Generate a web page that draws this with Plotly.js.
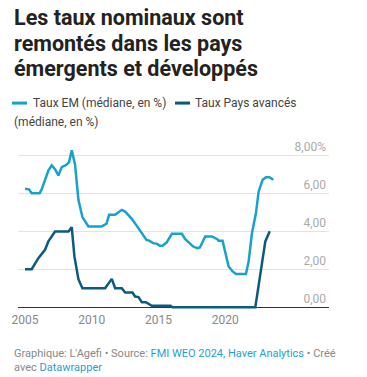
<!DOCTYPE html>
<html>
<head>
<meta charset="utf-8">
<script src="https://cdn.plot.ly/plotly-3.0.1.min.js"></script>
<style>
html,body{margin:0;padding:0;background:#fff;}
#chart{width:367px;height:377px;}
</style>
</head>
<body>
<div id="chart"></div>
<script>
// Taux EM (médiane, en %)
const emYears = [2005.0,2005.3,2005.5,2006.1,2006.25,2006.5,2006.75,2007.0,2007.25,2007.5,2007.75,2008.1,2008.3,2008.5,2008.75,2009.0,2009.3,2009.75,2010.75,2011.1,2011.3,2011.75,2012.25,2012.5,2013.0,2013.4,2013.75,2014.1,2014.3,2014.6,2014.9,2015.1,2015.3,2015.6,2016.0,2016.75,2017.0,2017.3,2017.6,2017.9,2018.1,2018.5,2019.0,2019.4,2019.5,2019.8,2020.25,2020.55,2020.8,2021.55,2021.75,2022.0,2022.3,2022.5,2022.8,2023.05,2023.3,2023.6];
const emValues = [6.23,6.2,6.0,6.0,6.2,6.74,7.19,7.46,7.26,6.93,7.37,7.49,7.63,8.25,7.49,5.65,4.74,4.25,4.25,4.39,4.86,4.86,5.12,5.03,4.65,4.25,3.9,3.54,3.5,3.37,3.33,3.23,3.23,3.4,3.86,3.86,3.58,3.4,3.19,3.1,3.14,3.72,3.72,3.58,3.49,3.49,2.14,1.88,1.75,1.75,2.4,3.9,4.95,6.09,6.7,6.84,6.84,6.7];
// Taux Pays avancés (médiane, en %)
const advYears = [2005.0,2005.5,2006.0,2006.5,2006.75,2007.25,2008.25,2008.5,2008.7,2009.0,2009.3,2011.0,2011.5,2011.75,2012.25,2012.5,2013.05,2013.25,2013.5,2013.75,2014.05,2014.5,2015.9,2016.05,2022.25,2022.75,2023.0,2023.33];
const advValues = [2.0,2.0,2.58,3.02,3.46,3.98,3.98,4.21,2.67,1.47,1.0,1.0,1.49,1.0,1.0,0.77,0.77,0.56,0.53,0.26,0.26,0.07,0.07,0.0,0.0,2.3,3.46,4.0];

const xTickVals = [2005, 2010, 2015, 2020];
const yTickVals = [0, 2, 4, 6, 8];
const yTickText = ["0,00", "2,00", "4,00", "6,00", "8,00%"];
const titleLines = ["Les taux nominaux sont", "remontés dans les pays", "émergents et développés"];

const emColor = "#18a1cd";
const advColor = "#0d5a80";

const L = 18, R = 38, T = 137.9, B = 66.2;
const W = 367, H = 377;
const pw = W - L - R, ph = H - T - B;
const px = v => (v - L) / pw;
const py = v => (H - B - v) / ph;

const traces = [
  {x: emYears, y: emValues, type: "scatter", mode: "lines", name: "Taux EM (médiane, en %)",
   line: {color: emColor, width: 2.5}, hoverinfo: "skip"},
  {x: advYears, y: advValues, type: "scatter", mode: "lines", name: "Taux Pays avancés (médiane, en %)",
   line: {color: advColor, width: 2.5}, hoverinfo: "skip"}
];

const font = "Roboto, 'Liberation Sans', sans-serif";
const titleCenters = [17.5, 43, 68.5];

const annotations = titleLines.map((t, i) => ({
  text: "<b>" + t + "</b>", xref: "paper", yref: "paper", x: px(12), y: py(titleCenters[i]),
  xanchor: "left", yanchor: "middle", showarrow: false,
  font: {family: font, size: 21.5, color: "#222"}
})).concat([
  {text: "Taux EM (médiane, en %)", xref: "paper", yref: "paper", x: px(31), y: py(103),
   xanchor: "left", yanchor: "middle", showarrow: false, font: {family: font, size: 12, color: "#444"}},
  {text: "Taux Pays avancés", xref: "paper", yref: "paper", x: px(193), y: py(103),
   xanchor: "left", yanchor: "middle", showarrow: false, font: {family: font, size: 12, color: "#444"}},
  {text: "(médiane, en %)", xref: "paper", yref: "paper", x: px(12), y: py(122),
   xanchor: "left", yanchor: "middle", showarrow: false, font: {family: font, size: 12, color: "#444"}},
  {text: "Graphique: L'Agefi • Source: <span style=\"color:#1d9fd0\">FMI WEO 2024, Haver Analytics</span> • Créé",
   xref: "paper", yref: "paper", x: px(12), y: py(353), xanchor: "left", yanchor: "middle",
   showarrow: false, font: {family: font, size: 11, color: "#888"}},
  {text: "avec <span style=\"color:#1d9fd0\">Datawrapper</span>",
   xref: "paper", yref: "paper", x: px(12), y: py(367), xanchor: "left", yanchor: "middle",
   showarrow: false, font: {family: font, size: 11, color: "#888"}}
]);

const layout = {
  width: W, height: H,
  margin: {l: L, r: R, t: T, b: B, pad: 0},
  paper_bgcolor: "#fff", plot_bgcolor: "#fff",
  showlegend: false,
  font: {family: font, size: 12, color: "#333"},
  xaxis: {
    range: [2004.475, 2027.77],
    tickvals: xTickVals, ticktext: xTickVals.map(String),
    showgrid: false, zeroline: false, showline: false, ticks: "",
    tickfont: {family: font, size: 12, color: "#888"},
    fixedrange: true
  },
  yaxis: {
    range: [-0.2, 8.9], side: "right",
    tickvals: yTickVals, ticktext: yTickText,
    ticklabelposition: "inside top",
    showgrid: true, gridcolor: "#e3e3e3", gridwidth: 1,
    zeroline: true, zerolinecolor: "#333", zerolinewidth: 1,
    showline: false, ticks: "",
    tickfont: {family: font, size: 12, color: "#aaa"},
    fixedrange: true
  },
  shapes: [
    {type: "line", xref: "paper", yref: "paper", x0: px(12), x1: px(27), y0: py(103), y1: py(103),
     line: {color: emColor, width: 3}},
    {type: "line", xref: "paper", yref: "paper", x0: px(175), x1: px(190), y0: py(103), y1: py(103),
     line: {color: advColor, width: 3}}
  ],
  annotations: annotations
};

Plotly.newPlot("chart", traces, layout, {displayModeBar: false, staticPlot: true});
</script>
</body>
</html>
